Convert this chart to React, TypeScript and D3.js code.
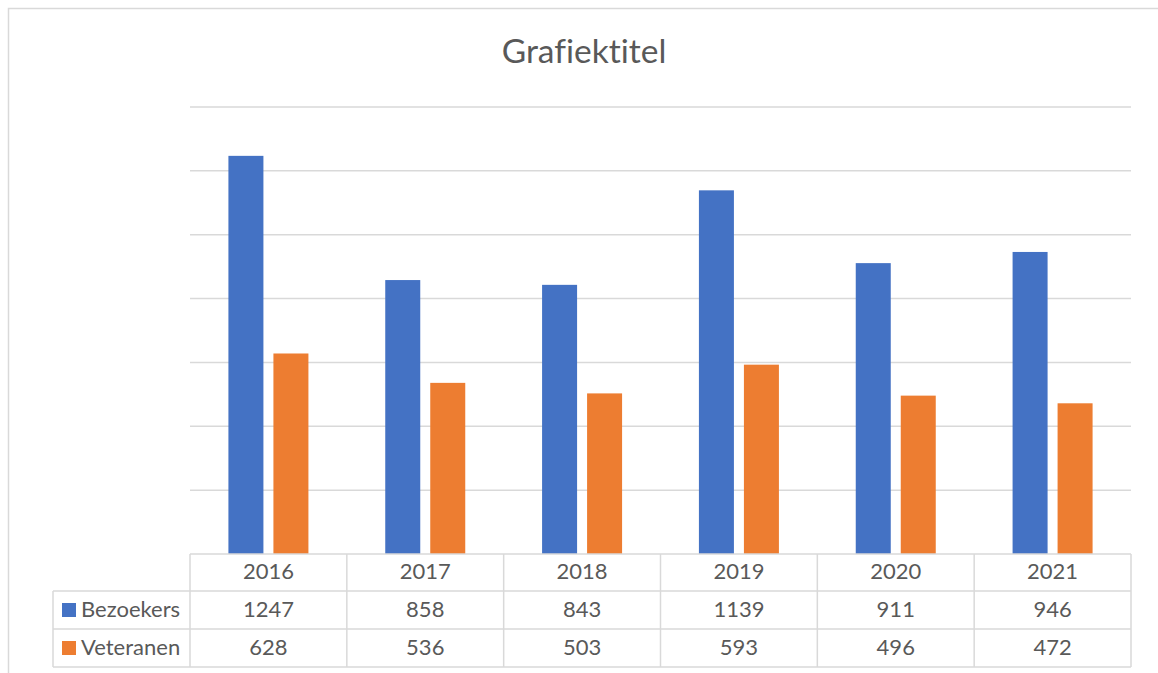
import React from "react";
import * as d3 from "d3";

const title = "Grafiektitel";
const years = ["2016", "2017", "2018", "2019", "2020", "2021"];
const seriesNames = ["Bezoekers", "Veteranen"];
const bezoekers = [1247, 858, 843, 1139, 911, 946];
const veteranen = [628, 536, 503, 593, 496, 472];
const yTicks = [0, 200, 400, 600, 800, 1000, 1200, 1400];
const colors = ["#4472C4", "#ED7D31"];

const W = 1158;
const H = 673;
const left = 190;
const right = 1131;
const top = 107;
const bottom = 554;
const rowEdges = [554, 591, 629, 667];
const labelLeft = 53;
const font = "Lato, 'Open Sans', sans-serif";
const textColor = "#595959";
const lineColor = "#D9D9D9";
const noLig = { fontVariantLigatures: "none" as const, fontFeatureSettings: "'liga' 0" };

export default function App() {
  const x = d3.scaleBand<string>().domain(years).range([left, right]).paddingInner(0).paddingOuter(0);
  const y = d3.scaleLinear().domain([0, 1400]).range([bottom, top]);
  const bw = x.bandwidth();
  const barW = 35;
  const gap = 10;
  const series = [bezoekers, veteranen];

  return (
    <svg width={W} height={H} style={{ position: "absolute", left: 0, top: 0, background: "#fff" }}>
      <rect x={0} y={0} width={W} height={H} fill="#fff" />
      <rect x={8.5} y={8.5} width={W + 20} height={H + 20} fill="none" stroke={lineColor} strokeWidth={1.5} />
      <text x={584} y={63} textAnchor="middle" fontFamily={font} fontSize={33.5} fill={textColor} style={noLig}>
        {title}
      </text>
      {yTicks.slice(1).map((t) => (
        <line key={t} x1={left} x2={right} y1={y(t)} y2={y(t)} stroke={lineColor} strokeWidth={1.5} />
      ))}
      {years.map((yr, i) => {
        const c = (x(yr) as number) + bw / 2;
        return series.map((s, si) => {
          const bx = si === 0 ? c - gap / 2 - barW : c + gap / 2;
          return (
            <rect
              key={yr + si}
              x={bx}
              y={y(s[i])}
              width={barW}
              height={bottom - y(s[i])}
              fill={colors[si]}
            />
          );
        });
      })}
      <g stroke={lineColor} strokeWidth={1.5} fill="none">
        <line x1={left} x2={right} y1={rowEdges[0]} y2={rowEdges[0]} />
        <line x1={labelLeft} x2={right} y1={rowEdges[1]} y2={rowEdges[1]} />
        <line x1={labelLeft} x2={right} y1={rowEdges[2]} y2={rowEdges[2]} />
        <line x1={labelLeft} x2={right} y1={rowEdges[3]} y2={rowEdges[3]} />
        <line x1={labelLeft} x2={labelLeft} y1={rowEdges[1]} y2={rowEdges[3]} />
        {years.map((yr) => (
          <line key={yr} x1={x(yr)} x2={x(yr)} y1={rowEdges[0]} y2={rowEdges[3]} />
        ))}
        <line x1={right} x2={right} y1={rowEdges[0]} y2={rowEdges[3]} />
      </g>
      {years.map((yr) => (
        <text
          key={yr}
          x={(x(yr) as number) + bw / 2}
          y={579}
          textAnchor="middle"
          fontFamily={font}
          fontSize={22}
          fill={textColor}
        >
          {yr}
        </text>
      ))}
      {series.map((s, si) => {
        const baseY = si === 0 ? 617 : 655;
        const rowTop = rowEdges[si + 1];
        return (
          <g key={si}>
            <rect x={62} y={rowTop + 12} width={14} height={14} fill={colors[si]} />
            <text x={81} y={baseY} fontFamily={font} fontSize={22} fill={textColor}>
              {seriesNames[si]}
            </text>
            {years.map((yr, i) => (
              <text
                key={yr}
                x={(x(yr) as number) + bw / 2}
                y={baseY}
                textAnchor="middle"
                fontFamily={font}
                fontSize={22}
                fill={textColor}
              >
                {s[i]}
              </text>
            ))}
          </g>
        );
      })}
    </svg>
  );
}
